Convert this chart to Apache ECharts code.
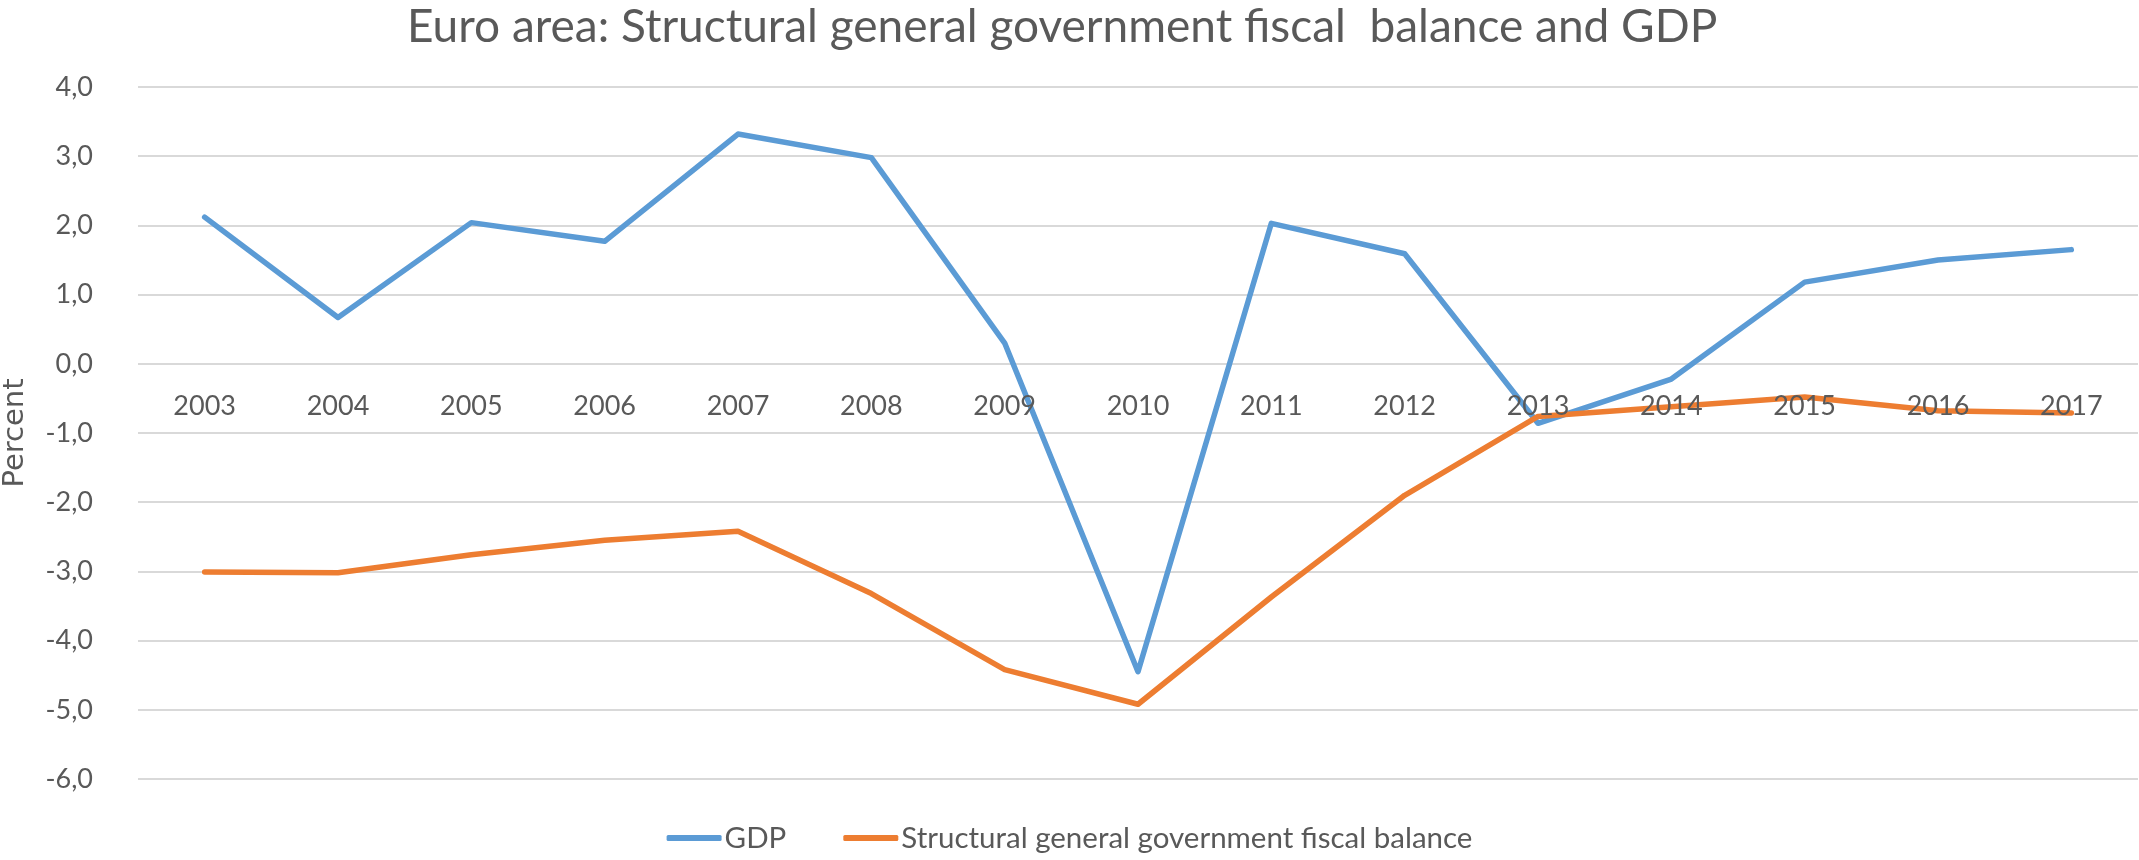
<!DOCTYPE html>
<html>
<head>
<meta charset="utf-8">
<script src="https://cdn.jsdelivr.net/npm/echarts@6/dist/echarts.min.js"></script>
<style>
  html, body { margin: 0; padding: 0; background: #ffffff; }
  #chart { width: 2139px; height: 860px; }
</style>
</head>
<body>
<div id="chart"></div>
<script>
// Years on the category axis
const years = ['2003', '2004', '2005', '2006', '2007', '2008', '2009', '2010',
               '2011', '2012', '2013', '2014', '2015', '2016', '2017'];

// Real GDP growth, percent
const gdp = [2.12, 0.67, 2.04, 1.77, 3.32, 2.98, 0.30, -4.45,
             2.03, 1.59, -0.86, -0.22, 1.18, 1.50, 1.65];

// Structural general government fiscal balance, percent of potential GDP
const structuralBalance = [-3.01, -3.02, -2.76, -2.55, -2.42, -3.32, -4.42, -4.92,
                           -3.37, -1.90, -0.76, -0.62, -0.48, -0.68, -0.71];

// Value axis range and step
const yMin = -6;
const yMax = 4;
const yStep = 1;

const seriesNames = ['GDP', 'Structural general government fiscal balance'];
const seriesColors = ['#5B9BD5', '#ED7D31'];

const textColor = '#595959';
const labelFont = 'Lato, sans-serif';

const H = 860;
const grid = { left: 138, right: 1, top: 87, bottom: 81, outerBoundsMode: 'none' };
const gridHeight = H - grid.top - grid.bottom;
// The category labels sit just under the zero line: shift the axis up from the grid bottom
const zeroShift = -((0 - yMin) / (yMax - yMin)) * gridHeight;

const chart = echarts.init(document.getElementById('chart'), null, { renderer: 'canvas' });

const lineSeries = (name, data, color) => ({
  name: name,
  type: 'line',
  data: data,
  symbol: 'none',
  z: 2,
  lineStyle: { color: color, width: 5.5, cap: 'round', join: 'round' },
  itemStyle: { color: color },
  emphasis: { disabled: true },
  animation: false
});

chart.setOption({
  backgroundColor: '#ffffff',
  animation: false,
  title: {
    text: 'Euro area: Structural general government fiscal  balance and GDP',
    left: 407,
    top: 4,
    padding: 0,
    textStyle: { color: textColor, fontFamily: labelFont, fontSize: 46, fontWeight: 'normal' }
  },
  legend: {
    bottom: 2,
    left: 'center',
    icon: 'roundRect',
    itemWidth: 55,
    itemHeight: 6,
    itemGap: 57,
    data: seriesNames,
    textStyle: { color: textColor, fontFamily: labelFont, fontSize: 29.5, padding: [0, 0, 0, -2] }
  },
  grid: grid,
  xAxis: {
    type: 'category',
    data: years,
    boundaryGap: true,
    position: 'bottom',
    offset: zeroShift,
    z: 3,
    axisLine: { show: false, onZero: false },
    axisTick: { show: false },
    axisLabel: {
      interval: 0,
      margin: 29,
      color: textColor,
      fontFamily: labelFont,
      fontSize: 27
    },
    splitLine: { show: false }
  },
  yAxis: {
    type: 'value',
    min: yMin,
    max: yMax,
    interval: yStep,
    name: 'Percent',
    nameLocation: 'middle',
    nameRotate: 90,
    nameGap: 108,
    nameTextStyle: { color: textColor, fontFamily: '"DejaVu Sans", sans-serif', fontSize: 29 },
    axisLine: { show: false },
    axisTick: { show: false },
    axisLabel: {
      margin: 45,
      color: textColor,
      fontFamily: labelFont,
      fontSize: 27,
      formatter: v => v.toFixed(1).replace('.', ',')
    },
    splitLine: { show: true, lineStyle: { color: '#d9d9d9', width: 2 } }
  },
  series: [
    lineSeries(seriesNames[0], gdp, seriesColors[0]),
    lineSeries(seriesNames[1], structuralBalance, seriesColors[1])
  ]
});
</script>
</body>
</html>
